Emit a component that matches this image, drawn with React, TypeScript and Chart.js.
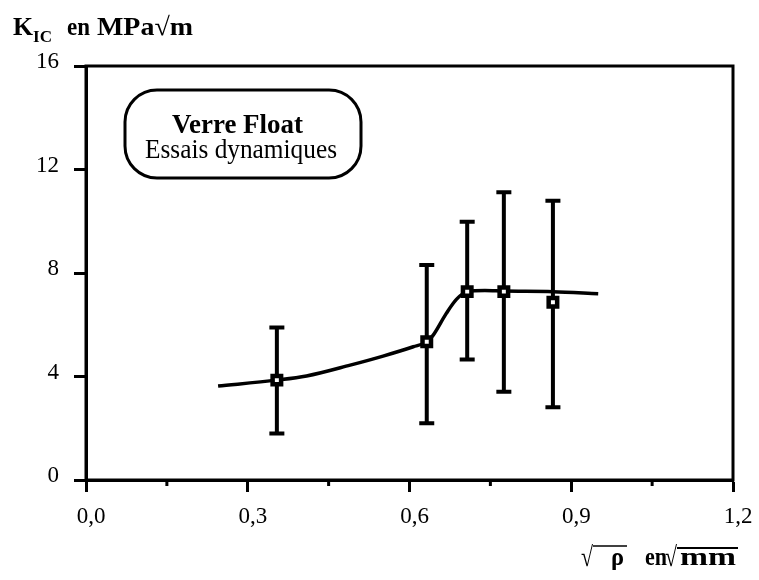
import React, { useEffect, useRef } from "react";
import { Chart, registerables } from "chart.js";

Chart.register(...registerables);

// Data
const xValues = [0.354, 0.632, 0.707, 0.775, 0.866];
const kicValues = [3.86, 5.34, 7.28, 7.28, 6.87];
const errLow = [1.8, 2.19, 4.66, 3.41, 2.81];
const errHigh = [5.89, 8.31, 9.98, 11.12, 10.79];
const curveX = [0.245, 0.354, 0.409, 0.49, 0.551, 0.607, 0.632, 0.644, 0.668, 0.687, 0.707, 0.74, 0.775, 0.866, 0.95];
const curveY = [3.63, 3.86, 4.02, 4.44, 4.79, 5.15, 5.34, 5.6, 6.43, 6.98, 7.28, 7.32, 7.3, 7.28, 7.2];
const xTickValues = [0, 0.15, 0.3, 0.45, 0.6, 0.75, 0.9, 1.05, 1.2];
const xMinorTicks = [0.15, 0.45, 0.75, 1.05];
const yTickValues = [0, 4, 8, 12, 16];

const SERIF = "'Liberation Serif', 'DejaVu Serif', serif";

function fitText(ctx: CanvasRenderingContext2D, text: string, x: number, y: number, w: number, font: string) {
  ctx.font = font;
  const m = ctx.measureText(text).width || 1;
  ctx.save();
  ctx.translate(x, y);
  ctx.scale(w / m, 1);
  ctx.textAlign = "left";
  ctx.textBaseline = "alphabetic";
  ctx.fillText(text, 0, 0);
  ctx.restore();
}

const errorBarPlugin = {
  id: "errorBars",
  beforeDatasetsDraw(chart: any) {
    const { ctx, scales } = chart;
    const xs = scales.x;
    const ys = scales.y;
    ctx.save();
    ctx.strokeStyle = "#000";
    ctx.lineCap = "butt";
    for (let i = 0; i < xValues.length; i++) {
      const px = xs.getPixelForValue(xValues[i]);
      const pl = ys.getPixelForValue(errLow[i]);
      const ph = ys.getPixelForValue(errHigh[i]);
      ctx.lineWidth = 4;
      ctx.beginPath();
      ctx.moveTo(px, pl);
      ctx.lineTo(px, ph);
      ctx.stroke();
      ctx.beginPath();
      ctx.moveTo(px - 7.5, pl);
      ctx.lineTo(px + 7.5, pl);
      ctx.moveTo(px - 7.5, ph);
      ctx.lineTo(px + 7.5, ph);
      ctx.stroke();
    }
    ctx.restore();
  },
};

const decorPlugin = {
  id: "decor",
  afterDraw(chart: any) {
    const { ctx, chartArea, scales } = chart;
    const { left, right, top, bottom } = chartArea;
    ctx.save();
    ctx.strokeStyle = "#000";
    ctx.fillStyle = "#000";
    // frame
    ctx.lineWidth = 3;
    ctx.strokeRect(left, top, right - left, bottom - top);
    // minor x ticks
    ctx.beginPath();
    for (const v of xMinorTicks) {
      const px = scales.x.getPixelForValue(v);
      ctx.moveTo(px, bottom);
      ctx.lineTo(px, bottom + 6);
    }
    ctx.stroke();

    // rounded legend box
    const bx = 125, by = 90, bw = 236, bh = 88, r = 32;
    ctx.lineWidth = 3;
    ctx.beginPath();
    ctx.moveTo(bx + r, by);
    ctx.lineTo(bx + bw - r, by);
    ctx.arcTo(bx + bw, by, bx + bw, by + r, r);
    ctx.lineTo(bx + bw, by + bh - r);
    ctx.arcTo(bx + bw, by + bh, bx + bw - r, by + bh, r);
    ctx.lineTo(bx + r, by + bh);
    ctx.arcTo(bx, by + bh, bx, by + bh - r, r);
    ctx.lineTo(bx, by + r);
    ctx.arcTo(bx, by, bx + r, by, r);
    ctx.closePath();
    ctx.fillStyle = "#fff";
    ctx.fill();
    ctx.stroke();
    ctx.fillStyle = "#000";
    fitText(ctx, "Verre Float", 172, 133, 131, `bold 27px ${SERIF}`);
    fitText(ctx, "Essais dynamiques", 145, 158, 192, `27px ${SERIF}`);

    // y title
    fitText(ctx, "K", 13, 35, 20, `bold 26px ${SERIF}`);
    fitText(ctx, "IC", 33, 42, 19, `bold 16px ${SERIF}`);
    fitText(ctx, "en", 67, 35, 23, `bold 26px ${SERIF}`);
    fitText(ctx, "MPa\u221Am", 97, 35, 96, `bold 26px ${SERIF}`);

    // x title
    fitText(ctx, "\u221A", 581, 566, 12, `bold 28px ${SERIF}`);
    ctx.lineWidth = 1.5;
    ctx.beginPath();
    ctx.moveTo(593, 546);
    ctx.lineTo(627, 546);
    ctx.stroke();
    fitText(ctx, "\u03C1", 611, 565, 13, `bold 26px ${SERIF}`);
    fitText(ctx, "en", 645, 565, 22, `bold 26px ${SERIF}`);
    fitText(ctx, "\u221A", 665, 566, 12, `bold 28px ${SERIF}`);
    ctx.lineWidth = 2;
    ctx.beginPath();
    ctx.moveTo(677, 548);
    ctx.lineTo(738, 548);
    ctx.stroke();
    fitText(ctx, "mm", 680, 565, 56, `bold 26px ${SERIF}`);
    ctx.restore();
  },
};

export default function App() {
  const canvasRef = useRef<HTMLCanvasElement | null>(null);

  useEffect(() => {
    if (!canvasRef.current) return;
    const chart = new Chart(canvasRef.current, {
      type: "scatter",
      data: {
        datasets: [
          {
            label: "Mesures",
            data: xValues.map((x, i) => ({ x, y: kicValues[i] })),
            pointStyle: "rect",
            pointRadius: 6,
            pointBorderWidth: 4.5,
            pointBackgroundColor: "#fff",
            pointBorderColor: "#000",
            showLine: false,
          },
          {
            label: "Courbe",
            data: curveX.map((x, i) => ({ x, y: curveY[i] })),
            showLine: true,
            borderColor: "#000",
            borderWidth: 3.5,
            pointRadius: 0,
            cubicInterpolationMode: "monotone",
            fill: false,
          },
        ],
      },
      options: {
        responsive: false,
        animation: false,
        layout: { padding: { left: 0, top: 66, right: 26, bottom: 0 } },
        plugins: { legend: { display: false }, tooltip: { enabled: false }, title: { display: false } },
        scales: {
          x: {
            type: "linear",
            min: 0,
            max: 1.2,
            afterFit: (s: any) => {
              s.height = 100;
            },
            afterBuildTicks: (s: any) => {
              s.ticks = xTickValues.map((v) => ({ value: v }));
            },
            border: { display: true, color: "#000", width: 3 },
            grid: {
              drawOnChartArea: false,
              drawTicks: true,
              tickLength: 12,
              tickWidth: 3,
              tickColor: (c: any) => (c.index % 2 === 1 ? "rgba(0,0,0,0)" : "#000"),
            },
            ticks: {
              color: "#000",
              padding: 11,
              labelOffset: 5,
              maxRotation: 0,
              autoSkip: false,
              font: { family: SERIF, size: 23 },
              callback: (v: any, i: number) => (i % 2 === 0 ? Number(v).toFixed(1).replace(".", ",") : ""),
            },
          },
          y: {
            type: "linear",
            min: 0,
            max: 16,
            afterFit: (s: any) => {
              s.width = 86;
            },
            afterBuildTicks: (s: any) => {
              s.ticks = yTickValues.map((v) => ({ value: v }));
            },
            border: { display: true, color: "#000", width: 3 },
            grid: {
              drawOnChartArea: false,
              drawTicks: true,
              tickLength: 12,
              tickWidth: 3,
              tickColor: "#000",
            },
            ticks: {
              color: "#000",
              padding: 15,
              labelOffset: -4,
              font: { family: SERIF, size: 23 },
              callback: (v: any) => String(v),
            },
          },
        },
      },
      plugins: [errorBarPlugin, decorPlugin],
    } as any);
    return () => chart.destroy();
  }, []);

  return (
    <div style={{ position: "absolute", left: 0, top: 0, width: 759, height: 580, background: "#fff" }}>
      <canvas ref={canvasRef} width={759} height={580} style={{ width: 759, height: 580, display: "block" }} />
    </div>
  );
}
